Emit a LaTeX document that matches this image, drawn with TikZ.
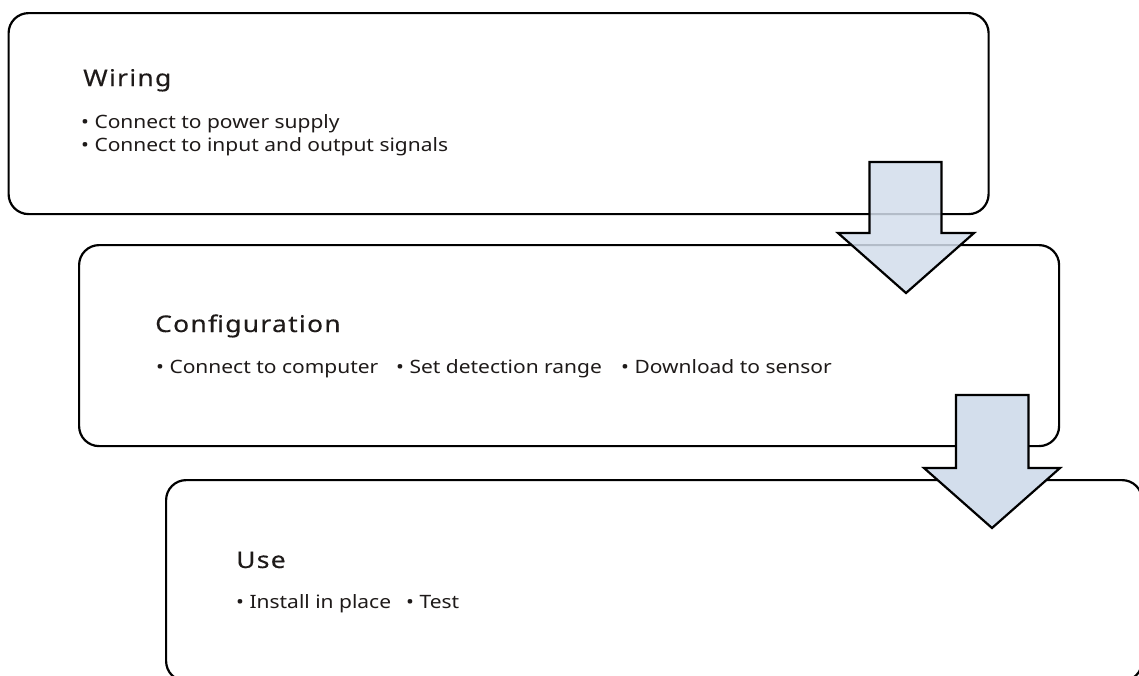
\documentclass[tikz,border=0pt]{standalone}
\usepackage{fontspec}
\setmainfont{Noto Sans}
\newfontfamily\itemfont[FakeStretch=1.14]{Noto Sans}
\newfontfamily\titlefont[FakeStretch=1.15,LetterSpace=5.5,FakeBold=0.3]{Noto Sans}
\definecolor{arrowfill}{HTML}{D3DEEC}
\definecolor{txt}{HTML}{1E1A19}
\begin{document}
\begin{tikzpicture}[x=1pt,y=-1pt,
  box/.style={draw=black,line width=2.2pt,rounded corners=20pt,fill=white,
    minimum width=980pt,minimum height=201pt,inner sep=0pt,anchor=north west},
  title/.style={anchor=base west,inner sep=0pt,text=txt,font=\titlefont\fontsize{23}{27}\selectfont},
  item/.style={anchor=base west,inner sep=0pt,text=txt,font=\itemfont\fontsize{18.4}{22}\selectfont},
  blockarrow/.style={draw=black,line width=2.2pt,fill=arrowfill,line join=miter}
]
\useasboundingbox (0,0) rectangle (1139,675);
\clip (0,0) rectangle (1139,675);
% boxes
\node[box] (b1) at (7.5,12) {};
\node[box] (b2) at (78,244) {};
\draw[blockarrow,fill opacity=0.85] (869.5,162) -- (941.5,162) -- (941.5,233) -- (974,233) -- (906,293) -- (838,233) -- (869.5,233) -- cycle;
\node[box,minimum width=976pt] (b3) at (165,479) {};
\draw[blockarrow] (956,395) -- (1028.5,395) -- (1028.5,468) -- (1060,468) -- (992,528) -- (924,468) -- (956,468) -- cycle;
% texts
\node[title] (t1) at (83,86) {Wiring};
\node[item] (i11) at (81,128) {• Connect to power supply};
\node[item] (i12) at (81,151) {• Connect to input and output signals};
\node[title] (t2) at (155,332) {Configuration};
\node[item] (i21) at (156,373) {• Connect to computer};
\node[item] (i22) at (396,373) {• Set detection range};
\node[item] (i23) at (621,373) {• Download to sensor};
\node[title] (t3) at (236,568) {Use};
\node[item] (i31) at (236,608) {• Install in place};
\node[item] (i32) at (406,608) {• Test};
\end{tikzpicture}
\end{document}
